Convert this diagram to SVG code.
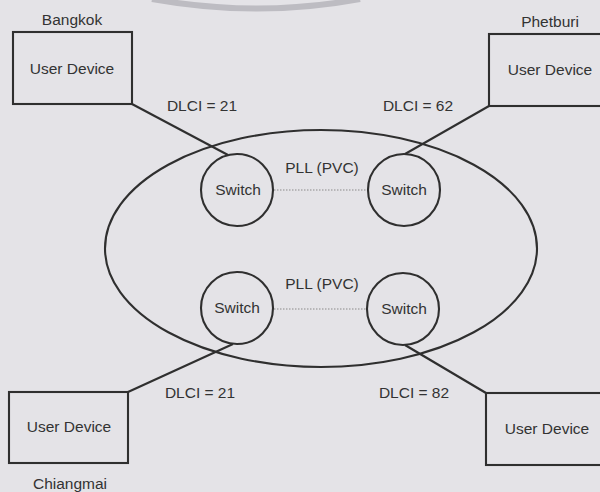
<svg xmlns="http://www.w3.org/2000/svg" width="600" height="492" viewBox="0 0 600 492">
<style>
.ln{stroke:#2f2f2f;stroke-width:2.1;fill:none}
.t{font-family:"Liberation Sans",Arial,sans-serif;font-size:15.5px;fill:#333;text-anchor:middle}
.dot{stroke:#8a8a8a;stroke-width:1.2;stroke-dasharray:1.5 1.5;fill:none}
</style>
<rect width="600" height="492" fill="#e4e3e7"/>
<path d="M152,-1 Q258,18 360,-1" fill="none" stroke="#bdbcc2" stroke-width="6"/>
<g id="network"><ellipse class="ln" cx="321" cy="248.5" rx="216" ry="118.5"/></g>
<g id="connectors">
<line class="ln" x1="132" y1="104" x2="228" y2="155"/>
<line class="ln" x1="489" y1="106" x2="405" y2="154"/>
<line class="ln" x1="233" y1="344" x2="128" y2="392"/>
<line class="ln" x1="405" y1="345" x2="486" y2="393"/>
<line class="dot" x1="274" y1="190" x2="368" y2="190"/>
<line class="dot" x1="274" y1="309" x2="367" y2="309"/>
<text class="t" x="202" y="111">DLCI = 21</text>
<text class="t" x="418" y="111">DLCI = 62</text>
<text class="t" x="200" y="398">DLCI = 21</text>
<text class="t" x="414" y="398">DLCI = 82</text>
<text class="t" x="322" y="173">PLL (PVC)</text>
<text class="t" x="322" y="289">PLL (PVC)</text>
</g>
<g id="bangkok">
<text class="t" x="72" y="25">Bangkok</text>
<rect class="ln" x="13" y="32" width="119" height="72"/>
<text class="t" x="72" y="74">User Device</text>
</g>
<g id="phetburi">
<text class="t" x="550" y="27">Phetburi</text>
<rect class="ln" x="489" y="34" width="120" height="72"/>
<text class="t" x="550" y="75">User Device</text>
</g>
<g id="chiangmai">
<rect class="ln" x="9" y="392" width="119" height="71"/>
<text class="t" x="69" y="432">User Device</text>
<text class="t" x="70" y="489">Chiangmai</text>
</g>
<g id="device-br">
<rect class="ln" x="486" y="393" width="122" height="72"/>
<text class="t" x="547" y="434">User Device</text>
</g>
<g id="switch-tl"><circle class="ln" cx="237" cy="190" r="36"/><text class="t" x="238" y="195">Switch</text></g>
<g id="switch-tr"><circle class="ln" cx="404" cy="190" r="36"/><text class="t" x="404" y="195">Switch</text></g>
<g id="switch-bl"><circle class="ln" cx="237" cy="308" r="36"/><text class="t" x="237" y="313">Switch</text></g>
<g id="switch-br"><circle class="ln" cx="403" cy="309" r="36"/><text class="t" x="404" y="314">Switch</text></g>
</svg>
